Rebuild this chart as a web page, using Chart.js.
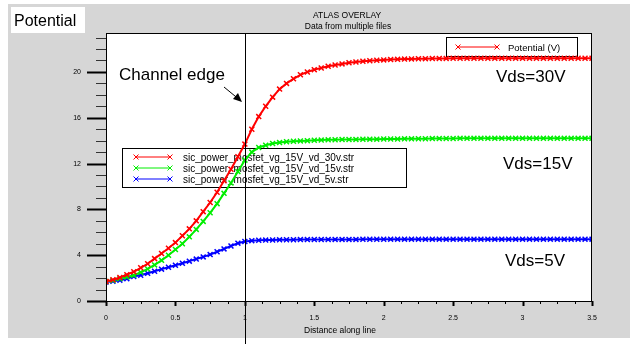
<!DOCTYPE html>
<html>
<head>
<meta charset="utf-8">
<script src="https://cdn.jsdelivr.net/npm/chart.js@4"></script>
<style>
  html, body { margin: 0; padding: 0; background: #ffffff; }
  #grafico { display: block; }
</style>
</head>
<body>
<canvas id="grafico" width="637" height="344"></canvas>
<script>
// =============================================
//           DATOS: POTENCIAL A LO LARGO DE LA LINEA
// =============================================
const distancia = [
  0, 0.05, 0.1, 0.15, 0.2, 0.25, 0.3, 0.35, 0.4, 0.45, 0.5, 0.55, 0.6, 0.65, 0.7, 0.75, 0.8, 0.85, 0.9, 0.95,
  1.0, 1.05, 1.1, 1.15, 1.2, 1.25, 1.3, 1.35, 1.4, 1.45, 1.5, 1.55, 1.6, 1.65, 1.7, 1.75, 1.8, 1.85, 1.9, 1.95,
  2.0, 2.05, 2.1, 2.15, 2.2, 2.25, 2.3, 2.35, 2.4, 2.45, 2.5, 2.55, 2.6, 2.65, 2.7, 2.75, 2.8, 2.85, 2.9, 2.95,
  3.0, 3.05, 3.1, 3.15, 3.2, 3.25, 3.3, 3.35, 3.4, 3.45, 3.5
];
const potencialVd30 = [
  1.7, 1.85, 2.05, 2.3, 2.55, 2.9, 3.25, 3.7, 4.15, 4.6, 5.1, 5.7, 6.3, 7.0, 7.8, 8.6, 9.5, 10.5, 11.5, 12.6,
  13.7, 15.0, 16.1, 17.0, 17.8, 18.5, 19.0, 19.4, 19.75, 20.0, 20.2, 20.35, 20.5, 20.6, 20.7, 20.8, 20.87, 20.93, 20.98, 21.02,
  21.05, 21.08, 21.1, 21.12, 21.14, 21.15, 21.16, 21.17, 21.18, 21.18, 21.19, 21.19, 21.2, 21.2, 21.2, 21.2, 21.2, 21.2, 21.2, 21.2,
  21.2, 21.2, 21.2, 21.2, 21.2, 21.2, 21.2, 21.2, 21.2, 21.2, 21.2
];
const potencialVd15 = [
  1.7, 1.8, 1.95, 2.1, 2.25, 2.5, 2.8, 3.15, 3.55, 4.0, 4.5, 5.0, 5.6, 6.25, 6.95, 7.7, 8.5, 9.4, 10.3, 11.3,
  12.3, 13.0, 13.4, 13.6, 13.75, 13.83, 13.9, 13.95, 13.98, 14.0, 14.03, 14.05, 14.07, 14.08, 14.1, 14.1, 14.11, 14.12, 14.13, 14.13,
  14.14, 14.15, 14.15, 14.16, 14.16, 14.17, 14.17, 14.18, 14.18, 14.19, 14.19, 14.2, 14.2, 14.2, 14.2, 14.2, 14.2, 14.2, 14.2, 14.2,
  14.2, 14.2, 14.2, 14.2, 14.2, 14.2, 14.2, 14.2, 14.2, 14.2, 14.2
];
const potencialVd5 = [
  1.65, 1.72, 1.82, 1.95, 2.15, 2.25, 2.42, 2.6, 2.78, 2.95, 3.12, 3.3, 3.48, 3.66, 3.85, 4.05, 4.3, 4.55, 4.8, 5.05,
  5.2, 5.27, 5.3, 5.32, 5.33, 5.34, 5.35, 5.35, 5.36, 5.36, 5.37, 5.37, 5.37, 5.38, 5.38, 5.38, 5.38, 5.39, 5.39, 5.39,
  5.39, 5.4, 5.4, 5.4, 5.4, 5.4, 5.4, 5.4, 5.4, 5.4, 5.4, 5.4, 5.4, 5.4, 5.4, 5.4, 5.4, 5.4, 5.4, 5.4,
  5.4, 5.4, 5.4, 5.4, 5.4, 5.4, 5.4, 5.4, 5.4, 5.4, 5.4
];
const nombresSeries = [
  "sic_power_mosfet_vg_15V_vd_30v.str",
  "sic_power_mosfet_vg_15V_vd_15v.str",
  "sic_power_mosfet_vg_15V_vd_5v.str"
];
const etiquetasVds = ["Vds=30V", "Vds=15V", "Vds=5V"];
const ticksX = [0, 0.5, 1, 1.5, 2, 2.5, 3, 3.5];
const ticksY = [0, 4, 8, 12, 16, 20];
const bordeCanal = 1; // posición del borde del canal en el eje X

const FUENTE = '"Liberation Sans", Arial, sans-serif';
const COLORES = ["#ff0000", "#00ee00", "#0000ff"];

/////////////////**DIBUJA UNA X (MARCADOR) EN EL CANVAS*/////////////////
function dibujarCruz(ctx, x, y, r, color) {
    ctx.strokeStyle = color;
    ctx.lineWidth = 1;
    ctx.beginPath();
    ctx.moveTo(x - r, y - r); ctx.lineTo(x + r, y + r);
    ctx.moveTo(x - r, y + r); ctx.lineTo(x + r, y - r);
    ctx.stroke();
}

/////////////////**MUESTRA DE LEYENDA: LINEA CON CRUCES EN LOS EXTREMOS*/////////////////
function dibujarMuestra(ctx, x1, x2, y, color) {
    ctx.strokeStyle = color;
    ctx.lineWidth = 1;
    ctx.beginPath();
    ctx.moveTo(x1, y); ctx.lineTo(x2, y);
    ctx.stroke();
    dibujarCruz(ctx, x1, y, 2.5, color);
    dibujarCruz(ctx, x2, y, 2.5, color);
}

/////////////////**FONDO GRIS, AREA BLANCA Y LEYENDAS (DEBAJO DE LAS CURVAS)*/////////////////
const pluginFondo = {
    id: 'fondoAtlas',
    beforeDraw(chart) {
        const ctx = chart.ctx;
        const a = chart.chartArea;
        ctx.save();
        ctx.fillStyle = '#ffffff';
        ctx.fillRect(0, 0, chart.width, chart.height);
        ctx.fillStyle = '#d6d6d6';
        ctx.fillRect(8, 4, 622, 334);
        ctx.fillStyle = '#ffffff';
        ctx.fillRect(a.left, a.top, a.right - a.left, a.bottom - a.top);
        ctx.restore();
    },
    beforeDatasetsDraw(chart) {
        const ctx = chart.ctx;
        ctx.save();
        ctx.textAlign = 'left';
        ctx.textBaseline = 'alphabetic';

        // leyenda superior
        ctx.fillStyle = '#ffffff';
        ctx.fillRect(446, 37, 131, 19);
        ctx.strokeStyle = '#000000';
        ctx.lineWidth = 1;
        ctx.strokeRect(446.5, 37.5, 131, 19);
        dibujarMuestra(ctx, 458, 497, 47, COLORES[0]);
        ctx.fillStyle = '#000000';
        ctx.font = '9.5px ' + FUENTE;
        ctx.fillText('Potential (V)', 508, 50.5);

        // leyenda de archivos
        ctx.fillStyle = '#ffffff';
        ctx.fillRect(122, 148, 284, 39);
        ctx.strokeStyle = '#000000';
        ctx.strokeRect(122.5, 148.5, 284, 39);
        ctx.font = '10px ' + FUENTE;
        nombresSeries.forEach((nombre, i) => {
            const yFila = 157 + i * 11;
            dibujarMuestra(ctx, 136, 170, yFila, COLORES[i]);
            ctx.fillStyle = '#000000';
            ctx.fillText(nombre, 183, yFila + 3.5);
        });
        ctx.restore();
    }
};

/////////////////**MARCO, TICKS Y TEXTOS*/////////////////
const pluginAnotaciones = {
    id: 'anotacionesAtlas',
    afterDraw(chart) {
        const ctx = chart.ctx;
        const a = chart.chartArea;
        const sx = chart.scales.x;
        const sy = chart.scales.y;
        ctx.save();

        // marco del área
        ctx.strokeStyle = '#000000';
        ctx.lineWidth = 1;
        ctx.strokeRect(a.left + 0.5, a.top + 0.5, a.right - a.left - 1, a.bottom - a.top);

        // ticks eje Y (hacia la izquierda)
        for (let v = 0; v <= sy.max; v += 1) {
            const py = Math.round(sy.getPixelForValue(v)) + 0.5;
            const mayor = v % 4 === 0;
            ctx.strokeStyle = mayor ? '#000000' : '#333333';
            ctx.lineWidth = mayor ? 2 : 1;
            ctx.beginPath();
            ctx.moveTo(a.left, py);
            ctx.lineTo(a.left - (mayor ? 19 : 10), py);
            ctx.stroke();
        }
        // ticks eje X (hacia abajo)
        for (let i = 0; i <= 28; i++) {
            const v = i * 0.125;
            const px = Math.round(sx.getPixelForValue(v)) + 0.5;
            const mayor = i % 4 === 0;
            ctx.strokeStyle = '#000000';
            ctx.lineWidth = mayor ? 2 : 1;
            ctx.beginPath();
            ctx.moveTo(px, a.bottom);
            ctx.lineTo(px, a.bottom + (mayor ? 5 : 3));
            ctx.stroke();
        }

        // línea vertical del borde del canal
        const xCanal = Math.round(sx.getPixelForValue(bordeCanal)) + 0.5;
        ctx.strokeStyle = '#000000';
        ctx.lineWidth = 1;
        ctx.beginPath();
        ctx.moveTo(xCanal, a.top);
        ctx.lineTo(xCanal, chart.height);
        ctx.stroke();

        // títulos
        ctx.fillStyle = '#000000';
        ctx.textAlign = 'center';
        ctx.textBaseline = 'alphabetic';
        ctx.font = '8.5px ' + FUENTE;
        ctx.fillText('ATLAS OVERLAY', 347, 18);
        ctx.fillText('Data from multiple files', 348, 29);
        ctx.fillText('Distance along line', 340, 333);

        // caja "Potential"
        ctx.fillStyle = '#ffffff';
        ctx.fillRect(11, 7, 74, 26);
        ctx.fillStyle = '#000000';
        ctx.textAlign = 'left';
        ctx.font = '16px ' + FUENTE;
        ctx.fillText('Potential', 14, 26);

        // "Channel edge" y flecha
        ctx.font = '17px ' + FUENTE;
        ctx.fillText('Channel edge', 119, 80);
        ctx.strokeStyle = '#000000';
        ctx.lineWidth = 1;
        ctx.beginPath();
        ctx.moveTo(224, 87);
        ctx.lineTo(241, 101);
        ctx.stroke();
        ctx.beginPath();
        ctx.moveTo(242, 102);
        ctx.lineTo(233, 99);
        ctx.lineTo(238, 93);
        ctx.closePath();
        ctx.fillStyle = '#000000';
        ctx.fill();

        // etiquetas Vds
        ctx.font = '17px ' + FUENTE;
        ctx.fillText(etiquetasVds[0], 496, 82);
        ctx.fillText(etiquetasVds[1], 503, 169);
        ctx.fillText(etiquetasVds[2], 505, 266);

        ctx.restore();
    }
};

/////////////////**ARMA UN DATASET CON SUS PUNTOS (x, y)*/////////////////
function crearSerie(nombre, valores, color) {
    return {
        label: nombre,
        data: distancia.map((x, i) => ({ x: x, y: valores[i] })),
        borderColor: color,
        backgroundColor: color,
        borderWidth: 2,
        pointStyle: 'crossRot',
        pointRadius: 3.5,
        pointBorderWidth: 1.5,
        pointBorderColor: color,
        tension: 0
    };
}

/////////////////**CONFIGURACION DEL GRAFICO*/////////////////
function obtenerConfiguracion() {
    return {
        type: 'line',
        data: {
            datasets: [
                crearSerie(nombresSeries[0], potencialVd30, COLORES[0]),
                crearSerie(nombresSeries[1], potencialVd15, COLORES[1]),
                crearSerie(nombresSeries[2], potencialVd5, COLORES[2])
            ]
        },
        options: {
            responsive: false,
            animation: false,
            layout: { padding: { left: 0, top: 33, right: 45, bottom: 0 } },
            plugins: {
                legend: { display: false },
                title: { display: false },
                tooltip: { enabled: false }
            },
            scales: {
                x: {
                    type: 'linear',
                    min: 0,
                    max: 3.5,
                    afterFit: s => { s.height = 43; },
                    afterBuildTicks: s => { s.ticks = ticksX.map(v => ({ value: v })); },
                    grid: { display: false, drawTicks: false },
                    border: { display: false },
                    ticks: {
                        padding: 13,
                        color: '#000000',
                        maxRotation: 0,
                        font: { family: FUENTE, size: 7 },
                        callback: v => String(v)
                    }
                },
                y: {
                    type: 'linear',
                    min: 0,
                    max: 23.4,
                    afterFit: s => { s.width = 106; },
                    afterBuildTicks: s => { s.ticks = ticksY.map(v => ({ value: v })); },
                    grid: { display: false, drawTicks: false },
                    border: { display: false },
                    ticks: {
                        padding: 25,
                        color: '#000000',
                        font: { family: FUENTE, size: 7 },
                        callback: v => String(v)
                    }
                }
            }
        },
        plugins: [pluginFondo, pluginAnotaciones]
    };
}

/////////////////**RENDERIZA EL GRAFICO*/////////////////
function renderizarPotencial() {
    const ctx = document.getElementById('grafico').getContext('2d');
    window.graficoPotencial = new Chart(ctx, obtenerConfiguracion());
}

renderizarPotencial();
</script>
</body>
</html>
